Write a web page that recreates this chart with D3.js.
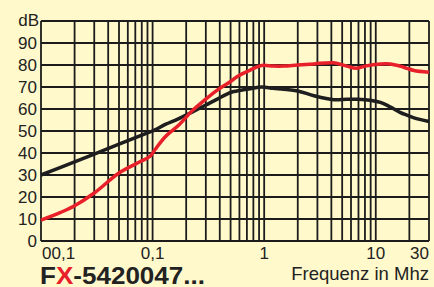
<!DOCTYPE html>
<html>
<head>
<meta charset="utf-8">
<script src="https://cdn.jsdelivr.net/npm/d3@7"></script>
<style>
  body { margin: 0; background: #fff9cc; }
  svg { display: block; }
  text { font-family: "Liberation Sans", Arial, sans-serif; fill: #222; }
</style>
</head>
<body>
<div id="chart"></div>
<script>
const width = 434;
const height = 287;

// frequency in MHz
const freq = [0.01, 0.015, 0.02, 0.03, 0.05, 0.077, 0.095, 0.105, 0.13, 0.17, 0.23, 0.3, 0.38, 0.5, 0.57,
  0.75, 0.95, 1.2, 1.5, 2, 2.8, 4.2, 5.5, 6.7, 8, 11, 13.4, 16.5, 19, 22, 30];
const redDb = [9.5, 13, 16, 21.8, 30.9, 36, 38.5, 41.5, 47.4, 52.5, 59.5, 64.5, 68.6, 72.5, 74.7,
  77.7, 79.8, 79.5, 79.5, 80, 80.5, 81, 79.5, 78.5, 79.5, 80.5, 80.5, 79.5, 78.5, 77.5, 76.7];
const blackDb = [30, 33.5, 36, 39.5, 44, 47.8, 49.6, 50.5, 53, 55.5, 58.8, 61.8, 64.5, 67.5, 68.2,
  69.2, 70, 69.4, 69, 68.2, 66, 64.2, 64.4, 64.4, 64.2, 63, 61, 58.5, 57.2, 56, 54.3];

const yTicks = [0, 10, 20, 30, 40, 50, 60, 70, 80, 90];
const xLabels = [
  { f: 0.01, text: "00,1" },
  { f: 0.1, text: "0,1" },
  { f: 1, text: "1" },
  { f: 10, text: "10" },
  { f: 30, text: "30" }
];

var svg = d3.select("#chart").append("svg")
  .attr("width", width)
  .attr("height", height);

svg.append("rect").attr("width", width).attr("height", height).attr("fill", "#fff9cc");

const x = d3.scaleLog().domain([0.01, 30]).range([41, 429]);
const y = d3.scaleLinear().domain([0, 100]).range([241, 21]);

// vertical grid: 1..9 per decade, then 10, 20, 30
var vlines = [];
[0.01, 0.1, 1].forEach(function(d) {
  for (var k = 1; k <= 9; k++) vlines.push(d * k);
});
vlines.push(10, 20, 30);

const grid = svg.append("g").attr("stroke", "#1c1c1c").attr("stroke-width", 1.8);

grid.selectAll("line.v")
  .data(vlines)
  .enter().append("line")
  .attr("class", "v")
  .attr("x1", d => x(d)).attr("x2", d => x(d))
  .attr("y1", y(0)).attr("y2", y(100));

grid.selectAll("line.h")
  .data(d3.range(0, 101, 10))
  .enter().append("line")
  .attr("class", "h")
  .attr("x1", x(0.01)).attr("x2", x(30))
  .attr("y1", d => y(d)).attr("y2", d => y(d));

// y labels
svg.selectAll("text.yl")
  .data(yTicks)
  .enter().append("text")
  .attr("class", "yl")
  .attr("x", 37)
  .attr("y", d => y(d) + 6)
  .attr("text-anchor", "end")
  .style("font-size", "17px")
  .text(d => d);

svg.append("text")
  .attr("x", 39).attr("y", y(100) + 5)
  .attr("text-anchor", "end")
  .style("font-size", "17px")
  .text("dB");

// x labels
svg.selectAll("text.xl")
  .data(xLabels)
  .enter().append("text")
  .attr("class", "xl")
  .attr("x", function(d, i) {
    if (i == 0) return x(d.f) + 1;
    if (i == xLabels.length - 1) return x(d.f);
    return x(d.f);
  })
  .attr("y", 259)
  .attr("text-anchor", function(d, i) {
    if (i == 0) return "start";
    if (i == xLabels.length - 1) return "end";
    return "middle";
  })
  .style("font-size", "17px")
  .text(d => d.text);

// curves
const line = d3.line()
  .x(d => x(d[0]))
  .y(d => y(d[1]))
  .curve(d3.curveCatmullRom);

svg.append("path")
  .datum(freq.map((f, i) => [f, blackDb[i]]))
  .attr("d", line)
  .attr("fill", "none")
  .attr("stroke", "#1e1e1e")
  .attr("stroke-width", 3.5);

svg.append("path")
  .datum(freq.map((f, i) => [f, redDb[i]]))
  .attr("d", line)
  .attr("fill", "none")
  .attr("stroke", "#e8202a")
  .attr("stroke-width", 3.5);

// titles
var title = svg.append("text")
  .attr("x", 40).attr("y", 284)
  .attr("textLength", 165)
  .attr("lengthAdjust", "spacingAndGlyphs")
  .style("font-size", "23px")
  .style("font-weight", "bold");
title.append("tspan").text("F");
title.append("tspan").style("fill", "#e8202a").text("X");
title.append("tspan").text("-5420047...");

svg.append("text")
  .attr("x", 429).attr("y", 280)
  .attr("text-anchor", "end")
  .style("font-size", "18.5px")
  .text("Frequenz in Mhz");
</script>
</body>
</html>
